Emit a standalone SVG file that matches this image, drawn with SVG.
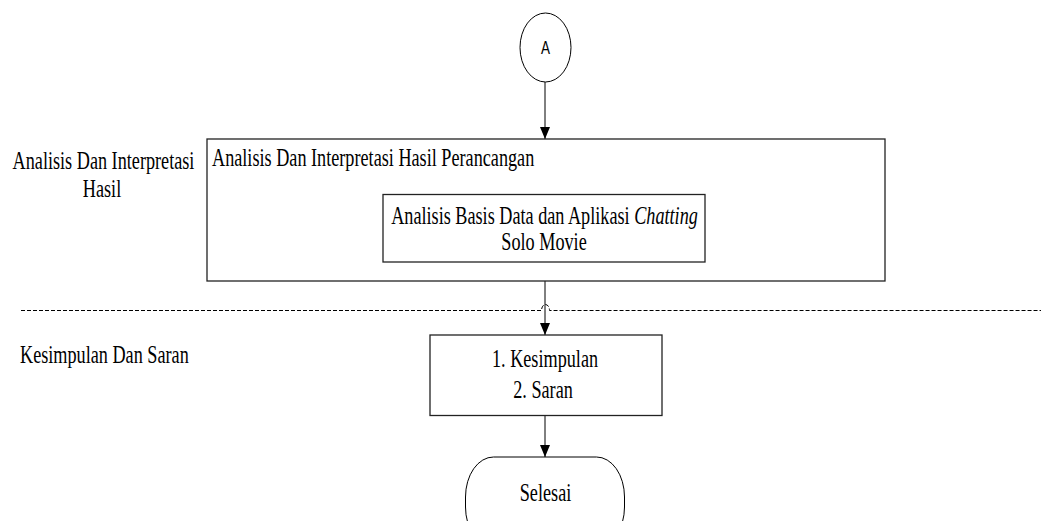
<svg xmlns="http://www.w3.org/2000/svg" width="1043" height="521" viewBox="0 0 1043 521">
<style>
.t{font-size:18.2px;fill:#000}
.m{text-anchor:middle}
.box{fill:#fff;stroke:#222;stroke-width:1.3}
.ln{fill:none;stroke:#000;stroke-width:1}
</style>
<defs>
<marker id="ah" viewBox="0 0 12 10" refX="12" refY="5" markerWidth="12" markerHeight="10" orient="auto" markerUnits="userSpaceOnUse">
<path d="M0,0 L12,5 L0,10 Z" fill="#000"/>
</marker>
</defs>
<rect width="1043" height="521" fill="#fff"/>
<g font-family="Liberation Serif, Times New Roman, serif">
<g id="labels">
<text class="t m" transform="translate(103.5,169) scale(1,1.35)">Analisis Dan Interpretasi</text>
<text class="t m" transform="translate(102,197) scale(1,1.35)">Hasil</text>
<text class="t" transform="translate(20,363) scale(1,1.35)">Kesimpulan Dan Saran</text>
</g>
<g id="divider">
<path class="ln" d="M21,310.5 H541.5 A4,6 0 0 1 549.5,310.5 H1041" stroke-dasharray="4,2"/>
</g>
<g id="connectors">
<line class="ln" x1="545" y1="82" x2="545" y2="139" marker-end="url(#ah)"/>
<line class="ln" x1="545" y1="281" x2="545" y2="335" marker-end="url(#ah)"/>
<line class="ln" x1="545" y1="416" x2="545" y2="457" marker-end="url(#ah)"/>
</g>
<g id="nodeA">
<ellipse cx="545.5" cy="47.5" rx="25.5" ry="34.5" fill="#fff" stroke="#000" stroke-width="1"/>
<text transform="translate(545.5,54) scale(1,1.4)" text-anchor="middle" font-family="Liberation Sans, Arial, sans-serif" font-size="13.5">A</text>
</g>
<g id="analisis">
<rect class="box" x="207" y="139" width="678" height="142"/>
<text class="t" transform="translate(212,166) scale(1,1.35)">Analisis Dan Interpretasi Hasil Perancangan</text>
</g>
<g id="basisdata">
<rect class="box" x="383" y="194.5" width="322" height="67.5"/>
<text class="t m" transform="translate(544.5,224) scale(1,1.35)">Analisis Basis Data dan Aplikasi <tspan font-style="italic">Chatting</tspan></text>
<text class="t m" transform="translate(544,250) scale(1,1.35)">Solo Movie</text>
</g>
<g id="kesimpulan">
<rect class="box" x="430" y="335" width="232" height="80.5"/>
<text class="t m" transform="translate(545,367) scale(1,1.35)">1. Kesimpulan</text>
<text class="t m" transform="translate(543,398) scale(1,1.35)">2. Saran</text>
</g>
<g id="selesai">
<rect x="465.5" y="457" width="159" height="90" rx="28" ry="40" fill="#fff" stroke="#000" stroke-width="1"/>
<text class="t m" transform="translate(545.5,501) scale(1,1.35)">Selesai</text>
</g>
</g>
</svg>
